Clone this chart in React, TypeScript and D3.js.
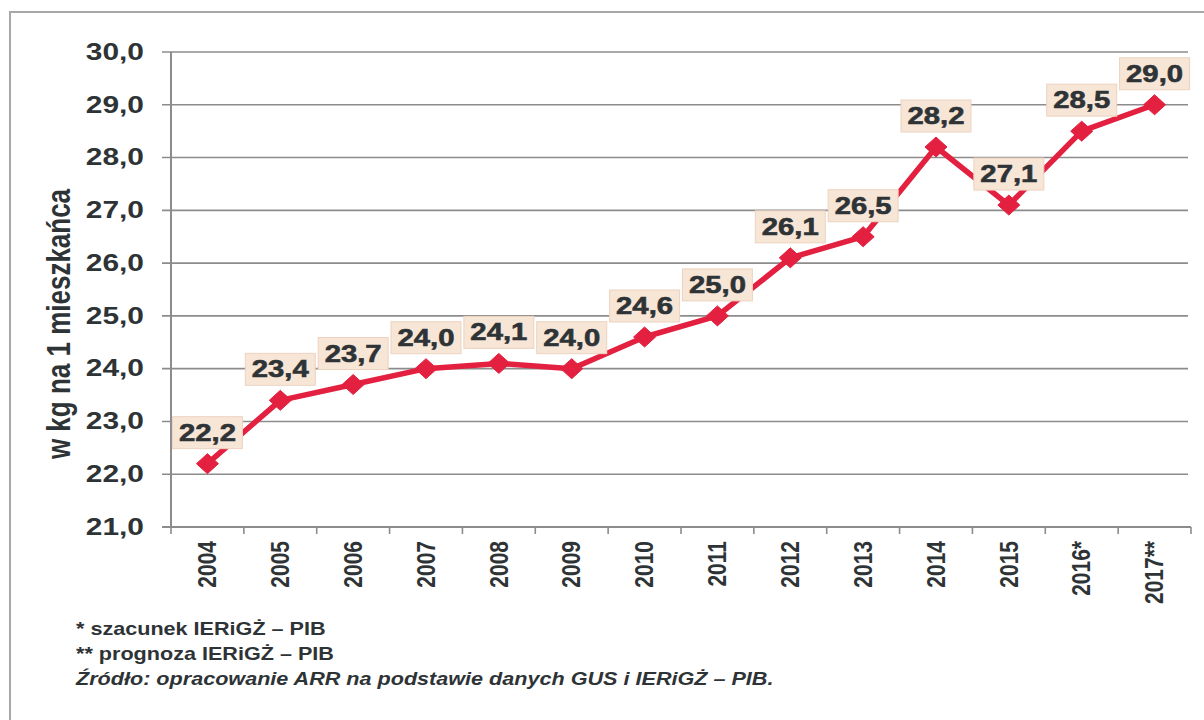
import React from "react";
import * as d3 from "d3";

const categories = ["2004", "2005", "2006", "2007", "2008", "2009", "2010", "2011", "2012", "2013", "2014", "2015", "2016*", "2017**"];
const values = [22.2, 23.4, 23.7, 24.0, 24.1, 24.0, 24.6, 25.0, 26.1, 26.5, 28.2, 27.1, 28.5, 29.0];
const yTicks = [21, 22, 23, 24, 25, 26, 27, 28, 29, 30];
const yTitle = "w kg na 1 mieszkańca";
const footnotes = ["* szacunek IERiGŻ – PIB", "** prognoza IERiGŻ – PIB"];
const source = "Źródło: opracowanie ARR na podstawie danych GUS i IERiGŻ – PIB.";

const fmt = (v: number) => v.toFixed(1).replace(".", ",");

export default function App() {
  const W = 1204, H = 720;
  const left = 171, right = 1191, top = 52, bottom = 527;
  const x = d3.scaleBand<string>().domain(categories).range([left, right]).padding(0);
  const y = d3.scaleLinear().domain([21, 30]).range([bottom, top]);
  const cx = (c: string) => (x(c) as number) + x.bandwidth() / 2;
  const pts = categories.map((c, i) => [cx(c), y(values[i])] as [number, number]);
  const line = d3.line()(pts) as string;
  const textColor = "#2e3336";
  const font = "'Liberation Sans', Arial, sans-serif";
  const red = "#e3203f";
  const diamond = "M0,-10L11,0L0,10L-11,0Z";
  const boundaries = d3.range(categories.length + 1).map((i) => left + i * x.bandwidth());

  return (
    <svg width={W} height={H} style={{ position: "absolute", left: 0, top: 0, background: "#fff" }} fontFamily={font}>
      <rect x={0} y={0} width={W} height={H} fill="#fff" />
      <rect x={10} y={12} width={1220} height={740} fill="none" stroke="#a8a8a8" strokeWidth={2} />
      {yTicks.map((t) => (
        <g key={t}>
          <line x1={162} x2={t === 21 ? right : 1188} y1={y(t)} y2={y(t)} stroke="#8c8c8c" strokeWidth={t === 21 ? 2 : 1.6} />
          <text transform={`translate(144,${y(t)}) scale(1.3,1)`} textAnchor="end" dominantBaseline="central" fontSize={23} fontWeight="bold" fill={textColor}>
            {fmt(t)}
          </text>
        </g>
      ))}
      <line x1={left} x2={left} y1={top} y2={bottom} stroke="#8c8c8c" strokeWidth={2} />
      {boundaries.map((b, i) => (
        <line key={i} x1={b} x2={b} y1={bottom} y2={bottom + 7} stroke="#8c8c8c" strokeWidth={1.6} />
      ))}
      {categories.map((c) => (
        <text key={c} transform={`translate(${cx(c)},541) rotate(-90) scale(1,1.2)`} textAnchor="end" dominantBaseline="central" fontSize={21} fontWeight="bold" fill={textColor}>
          {c}
        </text>
      ))}
      <text transform={`translate(58,324) rotate(-90) scale(1,1.3)`} textAnchor="middle" dominantBaseline="central" fontSize={26} fontWeight="bold" fill={textColor}>
        {yTitle}
      </text>
      <path d={line} fill="none" stroke={red} strokeWidth={5.5} strokeLinejoin="round" />
      {pts.map((p, i) => (
        <path key={i} d={diamond} transform={`translate(${p[0]},${p[1]})`} fill={red} stroke={red} strokeWidth={1} />
      ))}
      {pts.map((p, i) => (
        <g key={"l" + i} transform={`translate(${p[0]},${p[1] - 31})`}>
          <rect x={-35} y={-16} width={70} height={32} fill="#f7e5d6" stroke="#ecd3c0" strokeWidth={1} />
          <text transform="scale(1.22,1)" textAnchor="middle" dominantBaseline="central" fontSize={24} fontWeight="bold" fill={textColor} stroke={textColor} strokeWidth={0.6}>
            {fmt(values[i])}
          </text>
        </g>
      ))}
      {footnotes.map((f, i) => (
        <text key={f} transform={`translate(76,${635 + i * 25}) scale(1.2,1)`} fontSize={18} fontWeight="bold" fill={textColor}>
          {f}
        </text>
      ))}
      <text transform={`translate(76,685) scale(1.2,1)`} fontSize={18} fontWeight="bold" fontStyle="italic" fill={textColor}>
        {source}
      </text>
    </svg>
  );
}
